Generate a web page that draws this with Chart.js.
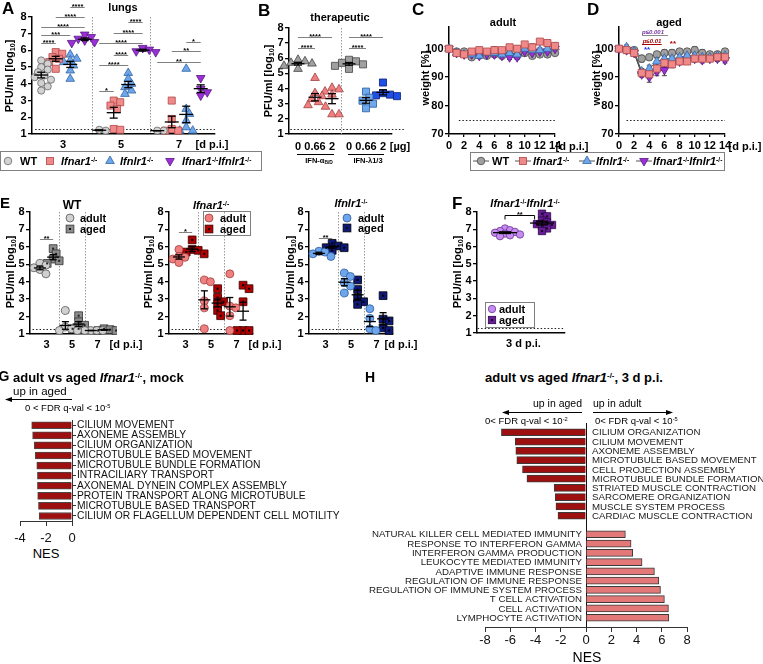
<!DOCTYPE html>
<html>
<head>
<meta charset="utf-8">
<script src="https://cdn.jsdelivr.net/npm/chart.js@4.4.1/dist/chart.umd.min.js"></script>
<style>
html,body{margin:0;padding:0;background:#fff}
body{position:relative;width:763px;height:664px;overflow:hidden;font-family:"Liberation Sans",Arial,Helvetica,sans-serif;color:#000}
canvas{position:absolute}
.t{position:absolute;white-space:nowrap;line-height:1}
.L{font-weight:bold;font-size:17px}
.L2{font-weight:bold;font-size:15px}
.L3{font-weight:bold;font-size:14px}
.b11{font-weight:bold;font-size:11px}
.b12{font-weight:bold;font-size:12px}
.b13{font-weight:bold;font-size:13px}
.b7{font-weight:bold;font-size:7.5px}
.r11{font-size:11.5px}
.r10{font-size:10.5px}
.r9{font-size:9.5px}
.r13{font-size:13px}
.r14{font-size:14px}
sup{font-size:60%;position:relative;top:-0.5em;vertical-align:baseline;line-height:0}
sub{font-size:65%;position:relative;top:0.3em;vertical-align:baseline;line-height:0}
.box{position:absolute;border:1px solid #808080;box-sizing:border-box}
svg{position:absolute;overflow:visible}
</style>
</head>
<body>
<script>
// ================= DATA =================
// Panel A – lungs, PFU/ml [log10] per day p.i.
const aDays  = ['3', '5', '7'];
const aTicks = [1, 2, 3, 4, 5, 6, 7, 8];
const aWT    = [[5.4,5.2,5.0,4.85,4.7,4.5,4.4,4.25,4.05,3.85,3.6],[1.25,1.2],[1.2,1.2]];
const aIfnar = [[5.9,5.8,5.6,5.5,5.3,4.9],[3.0,2.9,2.7,2.5,1.3,1.25],[3.0,1.9,1.3,1.2,1.2]];
const aIfnlr = [[5.75,5.5,5.4,5.3,5.1,4.8,4.3],[4.65,4.3,4.0,3.8,3.6,3.4],[4.9,2.5,2.2,1.8,1.4,1.2,1.2]];
const aDKO   = [[6.95,6.8,6.7,6.6,6.5,6.45],[6.15,6.05,5.95,5.9],[4.35,3.7,3.5,3.3]];
// [day index, group 1, group 2, bar level, label]
const aSig = [
  [0,0,1,6.44,'****'],[0,0,2,6.9,'***'],[0,0,3,7.4,'****'],[0,1,3,8.0,'****'],[0,2,3,8.6,'****'],
  [1,0,1,3.6,'*'],[1,0,2,5.1,'****'],[1,1,2,5.74,'****'],[1,0,3,6.44,'****'],[1,1,3,7.04,'****'],[1,2,3,7.68,'****'],
  [2,0,3,5.3,'**'],[2,1,3,5.94,'**'],[2,2,3,6.5,'*']
];
// Panel B – therapeutic
const bDoses   = ['0','0.66','2','0','0.66','2'];
const bCtrlA   = [5.9,5.8,5.7,5.65,5.5,5.3];
const bIFNa066 = [4.7,3.7,3.5,3.3,3.1,2.9,2.8];
const bIFNa2   = [4.05,3.95,3.8,3.6,2.3,2.3];
const bCtrlL   = [5.9,5.8,5.7,5.6,5.5,5.3];
const bIFNl066 = [3.8,3.4,3.2,3.0,2.7];
const bIFNl2   = [4.4,3.7,3.6,3.55,3.5];
const bSig = [[0,2,7.43,'****'],[0,1,6.7,'****'],[3,5,7.43,'****'],[3,4,6.7,'****']];
// Panels C/D – weight [%]
const wDays   = [0,1,2,3,4,5,6,7,8,9,10,11,12,13,14];
const wXTicks = [0,2,4,6,8,10,12,14];
const wYTicks = [70,80,90,100];
const cWT     = [100,99,99,97,98,97.5,98,97.5,98,97.5,98.5,97.5,98,98,98.5];
const cIfnar  = [100,98.5,98,99,99.5,99,99.5,99.5,100.5,100,101.5,100.5,102.5,102,101];
const cIfnlr  = [100,98.5,98,98,97.5,98.5,98.5,98,98.5,98,100,99.5,99.5,100,100.5];
const cDKO    = [100,98.5,98,98,97.5,98,98,97.5,97,97,99,98.5,99,99,100];
const cWTe    = [0,0.6,0.8,0.8,1.5,0.8,1,0.8,1,0.8,1,0.8,0.8,0.8,0.8];
const cIfnarE = [0,0.5,0.8,1,1,0.8,1.2,0.8,1,1,1,1.2,0.8,1,1];
const cIfnlrE = [0,0.6,0.8,0.8,0.8,0.8,0.8,0.8,0.8,0.8,0.8,0.8,0.8,0.8,0.8];
const cDKOe   = [0,0.6,0.8,0.8,0.8,0.8,0.8,0.8,0.8,0.8,0.8,0.8,0.8,0.8,0.8];
const dWT     = [100,99.5,99.5,96.5,97,98,98.5,98.5,99,99,99.5,98.5,98,98,99];
const dIfnar  = [100,99.5,98.5,91.5,91,93,95,94.5,95.5,95.5,96.5,96.5,96.5,97,97];
const dIfnlr  = [100,100.5,99,92,93,95.5,96.5,96.5,97,97.5,97.5,97,97,97.5,97.5];
const dDKO    = [100,99.5,98.5,91,90,92,92.5,95,95.5,96.5,96.5,96,96.5,96.5,96];
const dWTe    = [0,0.8,0.8,1.2,1,1,1.2,1.2,1,1,1.2,1.2,1,1,1];
const dIfnarE = [0,0.8,0.8,1.2,1.5,1.8,1.5,1.2,1,1,1.2,1,1,1,1];
const dIfnlrE = [0,0.8,0.8,1,1.2,1.2,1,1,1,1,1,1,1,1,1];
const dDKOe   = [0,0.8,0.8,1,1.8,1.5,2,1.2,1,1,1,1,1,1,1];
// Panel E – adult vs aged per genotype
const eDays = ['3','5','7'];
const eWTadult    = [[5.05,4.95,4.8,4.7,4.45],[2.35,1.4,1.3,1.2,1.2],[1.2,1.2,1.2,1.2]];
const eWTaged     = [[5.9,5.6,5.3,5.2,5.05],[2.05,1.7,1.5,1.3,1.3],[1.3,1.25,1.2,1.2]];
const eIfnarAdult = [[5.85,5.45,5.4,5.3,5.1],[4.1,4.0,2.9,2.5,1.3],[4.45,2.6,2.5,2.05,1.2]];
const eIfnarAged  = [[6.4,5.85,5.8,5.7,5.6],[3.6,3.1,2.85,2.7,2.35,2.05],[3.8,3.6,2.85,1.2,1.2,1.2]];
const eIfnlrAdult = [[5.75,5.7,5.6,5.45],[4.5,4.3,3.95,3.75,3.35],[2.45,1.9,1.3,1.2]];
const eIfnlrAged  = [[6.2,6.05,5.95,5.95,5.8],[4.1,3.55,3.05,2.85,2.7],[3.2,1.85,1.75,1.35,1.2]];
// Panel F – Ifnar1-/-Ifnlr1-/-, 3 d p.i.
const fAdult = [7.05,6.95,6.9,6.85,6.8,6.75,6.7,6.65,6.6];
const fAged  = [7.9,7.75,7.5,7.4,7.3,7.25,7.2,7.05,6.9];
// Panel G – GSEA mock
const gTerms = ['CILIUM MOVEMENT','AXONEME ASSEMBLY','CILIUM ORGANIZATION','MICROTUBULE BASED MOVEMENT','MICROTUBULE BUNDLE FORMATION','INTRACILIARY TRANSPORT','AXONEMAL DYNEIN COMPLEX ASSEMBLY','PROTEIN TRANSPORT ALONG MICROTUBULE','MICROTUBULE BASED TRANSPORT','CILIUM OR FLAGELLUM DEPENDENT CELL MOTILITY'];
const gNES   = [-3.1,-3.03,-2.9,-2.82,-2.71,-2.66,-2.66,-2.64,-2.58,-2.53];
const gXTicks = [-4,-2,0];
// Panel H – GSEA 3 d p.i.
const hAgedTerms  = ['CILIUM ORGANIZATION','CILIUM MOVEMENT','AXONEME ASSEMBLY','MICROTUBULE BASED MOVEMENT','CELL PROJECTION ASSEMBLY','MICROTUBULE BUNDLE FORMATION','STRIATED MUSCLE CONTRACTION','SARCOMERE ORGANIZATION','MUSCLE SYSTEM PROCESS','CARDIAC MUSCLE CONTRACTION'];
const hAgedNES    = [-6.7,-5.61,-5.56,-5.48,-5.03,-4.68,-2.51,-2.43,-2.38,-2.22];
const hAdultTerms = ['NATURAL KILLER CELL MEDIATED IMMUNITY','RESPONSE TO INTERFERON GAMMA','INTERFERON GAMMA PRODUCTION','LEUKOCYTE MEDIATED IMMUNITY','ADAPTIVE IMMUNE RESPONSE','REGULATION OF IMMUNE RESPONSE','REGULATION OF IMMUNE SYSTEM PROCESS','T CELL ACTIVATION','CELL ACTIVATION','LYMPHOCYTE ACTIVATION'];
const hAdultNES   = [3.12,3.57,3.7,4.44,5.42,5.77,5.9,6.21,6.53,6.56];
const hXTicks = [-8,-6,-4,-2,0,2,4,6,8];

// ================= STYLES =================
const FONT = '"Liberation Sans", Arial, Helvetica, sans-serif';
const sWT    = {ps:'circle',   r:3.6, bg:'#d2d2d2', bc:'#666666'};
const sIfnar = {ps:'rect',     r:5,   bg:'#f08a8a', bc:'#b04848'};
const sIfnlr = {ps:'triangle', r:5,   bg:'#6ea6ee', bc:'#34659f'};
const sDKO   = {ps:'triangle', r:5,   bg:'#9b30d8', bc:'#571882', rot:180};

// ================= HELPERS =================
Chart.defaults.font.family = FONT;
Chart.defaults.color = '#000';

function line(ctx, x1, y1, x2, y2) { ctx.beginPath(); ctx.moveTo(x1, y1); ctx.lineTo(x2, y2); ctx.stroke(); }

const extras = {
  id: 'extras',
  beforeDatasetsDraw(chart) {
    const o = chart.data.ext; if (!o) return;
    const ctx = chart.ctx, ca = chart.chartArea, X = chart.scales.x, Y = chart.scales.y;
    ctx.save();
    if (o.seps) {
      ctx.strokeStyle = '#9a9a9a'; ctx.lineWidth = 1; ctx.setLineDash([1.5, 1.5]);
      o.seps.forEach(v => { const px = Math.round(X.getPixelForValue(v)) + 0.5; line(ctx, px, ca.top, px, ca.bottom); });
      ctx.setLineDash([]);
    }
    if (o.lod) {
      ctx.strokeStyle = '#222'; ctx.lineWidth = 1; ctx.setLineDash([1.5, 2]);
      const py = Math.round(Y.getPixelForValue(o.lod.y)) + 0.5;
      line(ctx, X.getPixelForValue(o.lod.x1), py, X.getPixelForValue(o.lod.x2), py);
      ctx.setLineDash([]);
    }
    if (o.errs) {
      ctx.strokeStyle = '#444'; ctx.lineWidth = 1;
      chart.data.datasets.forEach((ds, i) => {
        if (!ds.err) return;
        chart.getDatasetMeta(i).data.forEach((pt, j) => {
          const e = ds.err[j]; if (!e) return;
          const v = ds.data[j].y, y1 = Y.getPixelForValue(v - e), y2 = Y.getPixelForValue(v + e);
          line(ctx, pt.x, y1, pt.x, y2); line(ctx, pt.x - 2.5, y1, pt.x + 2.5, y1); line(ctx, pt.x - 2.5, y2, pt.x + 2.5, y2);
        });
      });
    }
    ctx.restore();
  },
  afterDatasetsDraw(chart) {
    const o = chart.data.ext; if (!o) return;
    const ctx = chart.ctx, X = chart.scales.x, Y = chart.scales.y;
    ctx.save();
    chart.data.datasets.forEach((ds, i) => {
      if (!ds.dot) return;
      ctx.fillStyle = ds.dot;
      chart.getDatasetMeta(i).data.forEach(pt => ctx.fillRect(pt.x - 1, pt.y - 1, 2, 2));
    });
    if (o.mean) {
      ctx.strokeStyle = '#000'; ctx.lineWidth = 1.3;
      chart.data.datasets.forEach(ds => {
        if (!ds.vals) return;
        const n = ds.vals.length, m = ds.vals.reduce((a, b) => a + b, 0) / n;
        const sd = n > 1 ? Math.sqrt(ds.vals.reduce((a, b) => a + (b - m) * (b - m), 0) / (n - 1)) : 0;
        const sem = sd / Math.sqrt(n);
        const px = X.getPixelForValue(ds.cx), pm = Y.getPixelForValue(m);
        const p1 = Y.getPixelForValue(m - sem), p2 = Y.getPixelForValue(m + sem);
        line(ctx, px - o.mean.w / 2, pm, px + o.mean.w / 2, pm);
        line(ctx, px, p1, px, p2);
        line(ctx, px - o.mean.cap / 2, p1, px + o.mean.cap / 2, p1);
        line(ctx, px - o.mean.cap / 2, p2, px + o.mean.cap / 2, p2);
      });
    }
    if (o.sig) o.sig.forEach(s => {
      const x1 = X.getPixelForValue(s.x1), x2 = X.getPixelForValue(s.x2), py = Math.round(Y.getPixelForValue(s.y)) + 0.5;
      ctx.strokeStyle = s.c || '#808080'; ctx.lineWidth = 1;
      line(ctx, x1, py, x2, py);
      if (s.ends) { line(ctx, x1, py, x1, py + s.ends); line(ctx, x2, py, x2, py + s.ends); }
      ctx.fillStyle = '#000'; ctx.font = 'bold 7.5px ' + FONT; ctx.textAlign = 'center'; ctx.textBaseline = 'alphabetic';
      ctx.fillText(s.t, (x1 + x2) / 2, py + 1.5);
    });
    if (o.lines) o.lines.forEach(l => {
      ctx.strokeStyle = l.c; ctx.lineWidth = 1;
      const py = Math.round(Y.getPixelForValue(l.y)) + 0.5;
      line(ctx, X.getPixelForValue(l.x1), py, X.getPixelForValue(l.x2), py);
    });
    if (o.texts) o.texts.forEach(t => {
      ctx.fillStyle = t.c; ctx.font = t.f; ctx.textAlign = 'center'; ctx.textBaseline = 'middle';
      ctx.fillText(t.t, X.getPixelForValue(t.x), Y.getPixelForValue(t.y));
    });
    if (o.side) {
      const x0 = X.getPixelForValue(0);
      ctx.font = '9.7px ' + FONT; ctx.fillStyle = '#1a1a1a'; ctx.textBaseline = 'middle';
      chart.data.datasets[0].data.forEach((v, i) => {
        if (v == null || !o.side[i]) return;
        const py = Y.getPixelForValue(i) + 0.5;
        if (v < 0) { ctx.textAlign = 'left'; ctx.fillText(o.side[i], x0 + 6, py); }
        else { ctx.textAlign = 'right'; ctx.fillText(o.side[i], x0 - 4, py); }
      });
    }
    ctx.restore();
  }
};
Chart.register(extras);

function mk(area, o, cfg) {
  const l = o.l || 0, r = o.r || 0, t = o.t || 0, b = o.b || 0;
  const L = o.yRight ? area.l - l : area.l - o.yw - l;
  const R = o.yRight ? area.r + o.yw + r : area.r + r;
  const TP = area.t - t, B = area.b + o.xh + b;
  const c = document.createElement('canvas');
  c.width = R - L; c.height = B - TP;
  c.style.left = L + 'px'; c.style.top = TP + 'px';
  c.style.width = (R - L) + 'px'; c.style.height = (B - TP) + 'px';
  document.body.appendChild(c);
  cfg.options = cfg.options || {};
  Object.assign(cfg.options, {responsive: false, maintainAspectRatio: false, devicePixelRatio: 1, animation: false, events: [],
    layout: {autoPadding: false, padding: {left: l, right: r, top: t, bottom: b}}});
  cfg.options.plugins = {legend: {display: false}, tooltip: {enabled: false}};
  return new Chart(c, cfg);
}

function xLin(min, max, ticks, labels, o) {
  o = o || {};
  return {
    type: 'linear', min, max, offset: false,
    afterBuildTicks: s => { s.ticks = ticks.map(v => ({value: v})); },
    afterFit: s => { s.height = o.h || 22; },
    ticks: {callback: (v, i) => labels[i], font: {size: 11, weight: 'bold'}, color: '#000', padding: o.pad == null ? 4 : o.pad, autoSkip: false, maxRotation: 0, minRotation: 0},
    grid: {drawOnChartArea: false, drawTicks: !!o.tl, tickLength: o.tl || 0, color: '#000', lineWidth: 1.3},
    border: {color: '#000', width: 1.5}
  };
}
function yLin(min, max, ticks, o) {
  o = o || {};
  return {
    type: 'linear', min, max, offset: false,
    afterBuildTicks: s => { s.ticks = ticks.map(v => ({value: v})); },
    afterFit: s => { s.width = o.w || 28; },
    ticks: {font: {size: 11, weight: 'bold'}, color: '#000', padding: 1.5, autoSkip: false},
    grid: {drawOnChartArea: false, tickLength: 4, color: '#000', lineWidth: 1.3},
    border: {color: '#000', width: 1.5}
  };
}

// simple beeswarm: spreads overlapping points sideways (in pixels)
function swarm(vals, cx, pxX, pxY, d) {
  const idx = vals.map((v, i) => i).sort((a, b) => vals[b] - vals[a]);
  const placed = [], xs = [];
  idx.forEach(i => {
    const py = vals[i] * pxY;
    let off = 0;
    for (let k = 0; k < 40; k++) {
      const cand = k === 0 ? 0 : (k % 2 ? 1 : -1) * Math.ceil(k / 2) * d * 0.5;
      if (placed.every(p => (p.x - cand) * (p.x - cand) + (p.y - py) * (p.y - py) >= d * d * 0.8)) { off = cand; break; }
    }
    placed.push({x: off, y: py});
    xs[i] = cx + off / pxX;
  });
  return xs;
}

function dotChart(area, pad, xcfg, ycfg, groups, pos, ext) {
  const pxX = (area.r - area.l) / (xcfg.max - xcfg.min);
  const pxY = (area.b - area.t) / (ycfg.max - ycfg.min);
  const datasets = [];
  groups.forEach((g, gi) => g.sets.forEach((vals, ci) => {
    const cx = pos(gi, ci);
    const xs = swarm(vals, cx, pxX, pxY, ext.diam);
    datasets.push({
      data: vals.map((v, i) => ({x: xs[i], y: v})), vals, cx, dot: g.dot || null,
      pointStyle: g.ps, pointRadius: g.r, pointRotation: g.rot || 0,
      pointBackgroundColor: g.bg, pointBorderColor: g.bc, pointBorderWidth: 0.8, clip: false
    });
  }));
  return mk(area, pad, {type: 'scatter', data: {datasets, ext}, options: {scales: {x: xcfg, y: ycfg}}});
}

function weightChart(area, series, ext) {
  const datasets = series.map(s => ({
    type: 'line', data: wDays.map((d, i) => ({x: d, y: s.v[i]})), err: s.e,
    borderColor: '#505050', borderWidth: 1, pointStyle: s.ps, pointRadius: s.r, pointRotation: s.rot || 0,
    pointBackgroundColor: s.bg, pointBorderColor: s.bc, pointBorderWidth: 0.8, clip: false, tension: 0, fill: false
  }));
  return mk(area, {yw: 36, xh: 20, t: 8, r: 12}, {type: 'line', data: {datasets, ext}, options: {scales: {
    x: xLin(0, 14, wXTicks, wXTicks.map(String), {tl: 3, pad: 2, h: 20}),
    y: yLin(70, 107.6, wYTicks, {w: 36})
  }}});
}

// ================= PANEL A =================
const aOff = [-0.375, -0.125, 0.125, 0.375];
dotChart({l: 32, r: 215, t: 17, b: 134}, {yw: 30, xh: 22, t: 16, r: 3},
  xLin(-0.534, 2.621, [0, 1, 2], aDays, {pad: 4}), yLin(1, 8, aTicks, {w: 30}),
  [Object.assign({sets: aWT}, sWT), Object.assign({sets: aIfnar}, sIfnar), Object.assign({sets: aIfnlr}, sIfnlr), Object.assign({sets: aDKO}, sDKO)],
  (g, c) => c + aOff[g],
  {diam: 6.5, mean: {w: 14, cap: 8}, lod: {y: 1.3, x1: -0.48, x2: 2.62}, seps: [0.5, 1.5],
   sig: aSig.map(s => ({x1: s[0] + aOff[s[1]], x2: s[0] + aOff[s[2]], y: s[3], t: s[4]}))});

// ================= PANEL B =================
dotChart({l: 289, r: 392, t: 28, b: 134}, {yw: 28, xh: 22, t: 16, r: 16},
  xLin(-0.53, 5.53, [0, 1, 2, 3, 4, 5], bDoses, {pad: 6}), yLin(1, 8, aTicks, {w: 28}),
  [{sets: [bCtrlA], ps: 'triangle', r: 5, bg: '#a0a0a0', bc: '#444'},
   {sets: [bIFNa066], ps: 'triangle', r: 5, bg: '#f08080', bc: '#a04040'},
   {sets: [bIFNa2], ps: 'triangle', r: 5, bg: '#f08080', bc: '#a04040'},
   {sets: [bCtrlL], ps: 'rect', r: 5, bg: '#a0a0a0', bc: '#444'},
   {sets: [bIFNl066], ps: 'rect', r: 5, bg: '#6fa8ec', bc: '#2a5a98'},
   {sets: [bIFNl2], ps: 'rect', r: 5, bg: '#1f4fe6', bc: '#0a2070'}],
  (g, c) => g,
  {diam: 7, mean: {w: 13, cap: 8}, lod: {y: 1.3, x1: -0.45, x2: 6.3}, seps: [2.5],
   sig: bSig.map(s => ({x1: s[0], x2: s[1], y: s[2], t: s[3]}))});

// ================= PANELS C / D =================
const cdStyle = (v, e, s) => Object.assign({v, e}, s, s === sWT ? {bg: '#a0a0a0', bc: '#4a4a4a', r: 3.8} : {});
weightChart({l: 449, r: 555, t: 27, b: 134},
  [cdStyle(cIfnar, cIfnarE, sIfnar), cdStyle(cIfnlr, cIfnlrE, sIfnlr), cdStyle(cDKO, cDKOe, sDKO), cdStyle(cWT, cWTe, sWT)],
  {errs: true, lod: {y: 75, x1: 1.3, x2: 14.2}});
weightChart({l: 619, r: 725, t: 27, b: 134},
  [cdStyle(dIfnar, dIfnarE, sIfnar), cdStyle(dIfnlr, dIfnlrE, sIfnlr), cdStyle(dDKO, dDKOe, sDKO), cdStyle(dWT, dWTe, sWT)],
  {errs: true, lod: {y: 75, x1: 1.0, x2: 14.0},
   lines: [{x1: 3.04, x2: 6.47, y: 104.7, c: '#8a8a8a'}, {x1: 3.04, x2: 5.63, y: 101.5, c: '#a00000'}],
   texts: [{x: 4.49, y: 105.9, t: 'p≤0.001', c: '#7030a0', f: 'italic bold 6px ' + FONT},
           {x: 4.36, y: 102.7, t: 'p≤0.01', c: '#a00000', f: 'italic bold 6px ' + FONT},
           {x: 3.7, y: 99.6, t: '**', c: '#2233ee', f: 'bold 8px ' + FONT},
           {x: 7.13, y: 101.7, t: '**', c: '#b00000', f: 'bold 8px ' + FONT}]});

// ================= PANEL E =================
const eOff = g => (g ? 0.26 : -0.26);
function ePanel(l, adult, aged, sA, sB, sig) {
  dotChart({l: l, r: l + 84, t: 212, b: 334}, {yw: 28, xh: 22, t: 10, r: 3},
    xLin(-0.65, 2.65, [0, 1, 2], eDays, {pad: 4}), yLin(1, 8, aTicks, {w: 28}),
    [Object.assign({sets: adult}, sA), Object.assign({sets: aged}, sB)],
    (g, c) => c + eOff(g),
    {diam: 6, mean: {w: 12, cap: 7}, lod: {y: 1.3, x1: -0.55, x2: 2.65}, seps: [0.5, 1.5],
     sig: [{x1: -0.26, x2: 0.26, y: sig, t: sig > 6.6 ? '*' : '**'}]});
}
ePanel(30, eWTadult, eWTaged, {ps: 'circle', r: 4, bg: '#d0d0d0', bc: '#555'}, {ps: 'rect', r: 5.5, bg: '#8c8c8c', bc: '#333', dot: '#222'}, 6.44);
ePanel(169, eIfnarAdult, eIfnarAged, {ps: 'circle', r: 4, bg: '#f08080', bc: '#a03c3c'}, {ps: 'rect', r: 5.5, bg: '#b00000', bc: '#3a0000', dot: '#000'}, 6.84);
ePanel(309, eIfnlrAdult, eIfnlrAged, {ps: 'circle', r: 4, bg: '#6ea6ee', bc: '#2d5d9a'}, {ps: 'rect', r: 5.5, bg: '#0e1a7a', bc: '#000', dot: '#000'}, 6.5);

// ================= PANEL F =================
dotChart({l: 477, r: 565, t: 212, b: 333}, {yw: 28, xh: 22, t: 10, r: 3},
  xLin(-0.757, 1.622, [0.5], ['3 d p.i.'], {pad: 4}), yLin(1, 8, aTicks, {w: 28}),
  [{sets: [fAdult], ps: 'circle', r: 3.7, bg: '#c68cf2', bc: '#6b3590'}, {sets: [fAged], ps: 'rect', r: 5.2, bg: '#6a1b9a', bc: '#2a0845', dot: '#111'}],
  (g, c) => g,
  {diam: 5, mean: {w: 24, cap: 12}, lod: {y: 1.3, x1: -0.74, x2: 1.62},
   sig: [{x1: 0, x2: 0.8, y: 7.82, t: '**', c: '#000', ends: 4}]});

// ================= PANEL G =================
mk({l: 20, r: 72, t: 417, b: 521}, {yw: 290, xh: 22, l: 16, t: 4, r: 0, yRight: true}, {
  type: 'bar',
  data: {labels: gTerms, datasets: [{data: gNES, backgroundColor: '#9e1010', borderColor: '#4a4a4a', borderWidth: 1, barThickness: 7}]},
  options: {indexAxis: 'y', scales: {
    x: {type: 'linear', min: -4, max: 0, afterBuildTicks: s => { s.ticks = gXTicks.map(v => ({value: v})); }, afterFit: s => { s.height = 22; },
        ticks: {font: {size: 13}, color: '#111', padding: 5, maxRotation: 0, autoSkip: false},
        grid: {drawOnChartArea: false, tickLength: 5, color: '#333'}, border: {color: '#333', width: 1}},
    y: {type: 'category', position: 'right', afterFit: s => { s.width = 290; },
        ticks: {font: {size: 10.3}, color: '#111', padding: 1, autoSkip: false},
        grid: {drawOnChartArea: false, tickLength: 4, color: '#333', offset: false}, border: {color: '#333', width: 1}}
  }}
});

// ================= PANEL H =================
// category slots: blank, 10 "up in aged", blank, 10 "up in adult", blank
const hLabels = [''].concat(hAgedTerms, [''], hAdultTerms, ['']);
const hValues = [null].concat(hAgedNES, [null], hAdultNES, [null]);
const hColors = hValues.map(v => (v != null && v < 0 ? '#9e1010' : '#e27878'));
mk({l: 485, r: 687, t: 423, b: 627}, {yw: 0, xh: 22, l: 130, t: 2, r: 76}, {
  type: 'bar',
  data: {labels: hLabels, datasets: [{data: hValues, backgroundColor: hColors, borderColor: '#3a3a3a', borderWidth: 1, barThickness: 7}],
         ext: {side: hLabels}},
  options: {indexAxis: 'y', scales: {
    x: {type: 'linear', min: -8, max: 8, afterBuildTicks: s => { s.ticks = hXTicks.map(v => ({value: v})); }, afterFit: s => { s.height = 22; },
        ticks: {font: {size: 13}, color: '#111', padding: 1, maxRotation: 0, autoSkip: false},
        grid: {drawOnChartArea: true, color: c => (c.tick && c.tick.value === 0 ? '#111' : 'rgba(0,0,0,0)'), tickColor: '#333', tickLength: 5, lineWidth: 1},
        border: {color: '#333', width: 1}},
    y: {type: 'category', display: false, offset: false}
  }}
});

// ================= TEXT, LEGENDS, ARROWS =================
function T(x, y, html, cls, al, rot) {
  const d = document.createElement('div');
  d.className = 't ' + (cls || '');
  d.innerHTML = html;
  d.style.left = x + 'px'; d.style.top = y + 'px';
  const tx = al === 'l' ? '0' : al === 'r' ? '-100%' : '-50%';
  d.style.transform = 'translate(' + tx + ',-50%)' + (rot ? ' rotate(-90deg)' : '');
  document.body.appendChild(d);
}
function box(l, t, w, h) {
  const d = document.createElement('div'); d.className = 'box';
  d.style.left = l + 'px'; d.style.top = t + 'px'; d.style.width = w + 'px'; d.style.height = h + 'px';
  document.body.appendChild(d);
}
function shape(type, cx, cy, r, fill, stroke) {
  if (type === 'circle') return `<circle cx="${cx}" cy="${cy}" r="${r}" fill="${fill}" stroke="${stroke}" stroke-width="0.8"/>`;
  if (type === 'rect' || type === 'drect') {
    const s = r * Math.SQRT1_2;
    let out = `<rect x="${cx - s}" y="${cy - s}" width="${2 * s}" height="${2 * s}" fill="${fill}" stroke="${stroke}" stroke-width="0.8"/>`;
    if (type === 'drect') out += `<rect x="${cx - 1}" y="${cy - 1}" width="2" height="2" fill="#111"/>`;
    return out;
  }
  const sg = type === 'tri' ? -1 : 1;
  const pts = [0, 120, 240].map(a => { const rad = a * Math.PI / 180; return (cx + Math.sin(rad) * r).toFixed(2) + ',' + (cy + sg * Math.cos(rad) * r).toFixed(2); }).join(' ');
  return `<polygon points="${pts}" fill="${fill}" stroke="${stroke}" stroke-width="0.8"/>`;
}
function mark(cx, cy, type, fill, stroke, r, withLine) {
  const w = withLine ? 16 : 12, h = 12;
  let inner = withLine ? `<line x1="0" y1="${h / 2}" x2="${w}" y2="${h / 2}" stroke="#555" stroke-width="1"/>` : '';
  inner += shape(type, w / 2, h / 2, r, fill, stroke);
  const s = document.createElementNS('http://www.w3.org/2000/svg', 'svg');
  s.setAttribute('width', w); s.setAttribute('height', h);
  s.style.left = (cx - w / 2) + 'px'; s.style.top = (cy - h / 2) + 'px';
  s.innerHTML = inner;
  document.body.appendChild(s);
}
const IFNAR = '<i>Ifnar1</i><sup>-/-</sup>', IFNLR = '<i>Ifnlr1</i><sup>-/-</sup>';
const PFU = 'PFU/ml [log<sub>10</sub>]';

// A
T(2, 8, 'A', 'L', 'l');
T(123, 7, 'lungs', 'b11');
T(9, 76, PFU, 'b11', 'c', 1);
T(212, 144, '[d p.i.]', 'b11');
box(0, 151, 262, 20);
mark(8, 161, 'circle', '#d2d2d2', '#666', 3.8);  T(20, 161, 'WT', 'b11', 'l');
mark(50, 161, 'rect', '#f08a8a', '#b04848', 5);  T(61, 161, IFNAR, 'b11', 'l');
mark(110, 161, 'tri', '#6ea6ee', '#34659f', 5);  T(120, 161, IFNLR, 'b11', 'l');
mark(170, 161, 'itri', '#9b30d8', '#571882', 5); T(182, 161, IFNAR + IFNLR, 'b11', 'l');
// B
T(258, 10, 'B', 'L', 'l');
T(340, 17, 'therapeutic', 'b11');
T(268, 81, PFU, 'b11', 'c', 1);
T(400, 146, '[µg]', 'b11');
T(319, 161, 'IFN-α<sub>B/D</sub>', 'b7');
T(368, 161, 'IFN-λ1/3', 'b7');
// C / D
T(412, 8.5, 'C', 'L', 'l');
T(503, 22, 'adult', 'b11');
T(425, 78, 'weight [%]', 'b11', 'c', 1);
T(572, 146, '[d p.i.]', 'b11');
T(587, 8.5, 'D', 'L', 'l');
T(669, 22, 'aged', 'b11');
T(596, 78, 'weight [%]', 'b11', 'c', 1);
T(745, 146, '[d p.i.]', 'b11');
box(470, 152, 255, 19);
mark(481, 161, 'circle', '#a0a0a0', '#4a4a4a', 3.8, 1); T(492, 161, 'WT', 'b11', 'l');
mark(523, 161, 'rect', '#f08a8a', '#b04848', 5, 1);    T(533, 161, IFNAR, 'b11', 'l');
mark(587, 161, 'tri', '#6ea6ee', '#34659f', 5, 1);     T(596, 161, IFNLR, 'b11', 'l');
mark(644, 161, 'itri', '#9b30d8', '#571882', 5, 1);    T(653, 161, IFNAR + IFNLR, 'b11', 'l');
// E
T(0, 202, 'E', 'L2', 'l');
T(72, 205, 'WT', 'b12');
T(211, 205, IFNAR, 'b11');
T(351, 203, IFNLR, 'b11');
T(10, 272, PFU, 'b11', 'c', 1);
T(148, 272, PFU, 'b11', 'c', 1);
T(290, 272, PFU, 'b11', 'c', 1);
T(126, 344, '[d p.i.]', 'b11');
T(265, 344, '[d p.i.]', 'b11');
T(401, 344, '[d p.i.]', 'b11');
mark(70, 218, 'circle', '#d0d0d0', '#555', 4);   T(80, 218, 'adult', 'b11', 'l');
mark(70, 229, 'drect', '#8c8c8c', '#333', 5.5); T(80, 229, 'aged', 'b11', 'l');
box(203, 211, 48, 25);
mark(209, 218, 'circle', '#f08080', '#a03c3c', 4); T(220, 218, 'adult', 'b11', 'l');
mark(209, 229, 'drect', '#b00000', '#3a0000', 5.5); T(220, 229, 'aged', 'b11', 'l');
mark(347, 218, 'circle', '#6ea6ee', '#2d5d9a', 4); T(358, 218, 'adult', 'b11', 'l');
mark(347, 228, 'drect', '#0e1a7a', '#000', 5.5);  T(358, 228, 'aged', 'b11', 'l');
// F
T(452, 203, 'F', 'L', 'l');
T(525, 203, IFNAR + IFNLR, 'b11');
T(457, 272, PFU, 'b11', 'c', 1);
box(485, 302, 50, 26);
mark(492, 309, 'circle', '#c68cf2', '#6b3590', 3.7); T(499, 309, 'adult', 'b11', 'l');
mark(492, 320, 'drect', '#6a1b9a', '#2a0845', 5.2); T(499, 320, 'aged', 'b11', 'l');
// G
T(-1.5, 376, 'G', 'L3', 'l');
T(13, 377, 'adult vs aged ' + IFNAR + ', mock', 'b13', 'l');
T(13, 392, 'up in aged', 'r11', 'l');
T(25, 408, '0 &lt; FDR q-val &lt; 10<sup>-5</sup>', 'r9', 'l');
T(46, 553, 'NES', 'r13');
// H
T(365, 377, 'H', 'L3', 'l');
T(485, 377, 'adult vs aged ' + IFNAR + ', 3 d p.i.', 'b13', 'l');
T(582, 403, 'up in aged', 'r10', 'r');
T(593, 403, 'up in adult', 'r10', 'l');
T(485, 421, '0&lt; FDR q-val &lt; 10<sup>-2</sup>', 'r9', 'l');
T(595, 421, '0&lt; FDR q-val &lt; 10<sup>-5</sup>', 'r9', 'l');
T(587, 657, 'NES', 'r14');

// overlay lines / arrows
const ov = document.createElementNS('http://www.w3.org/2000/svg', 'svg');
ov.setAttribute('width', 763); ov.setAttribute('height', 664);
ov.style.left = '0px'; ov.style.top = '0px';
function arrow(xa, xb, y) { // head at xb
  const d = xb < xa ? 1 : -1;
  return `<line x1="${xa}" y1="${y}" x2="${xb + d * 5}" y2="${y}" stroke="#000" stroke-width="1"/>` +
         `<polygon points="${xb},${y} ${xb + d * 7},${y - 2.5} ${xb + d * 7},${y + 2.5}" fill="#000"/>`;
}
ov.innerHTML =
  `<line x1="297" y1="154.5" x2="334" y2="154.5" stroke="#000" stroke-width="1"/>` +
  `<line x1="348" y1="154.5" x2="384" y2="154.5" stroke="#000" stroke-width="1"/>` +
  arrow(72, 5, 399.5) + arrow(582, 502, 412.5) + arrow(593, 673, 412.5);
document.body.appendChild(ov);
</script>
</body>
</html>
